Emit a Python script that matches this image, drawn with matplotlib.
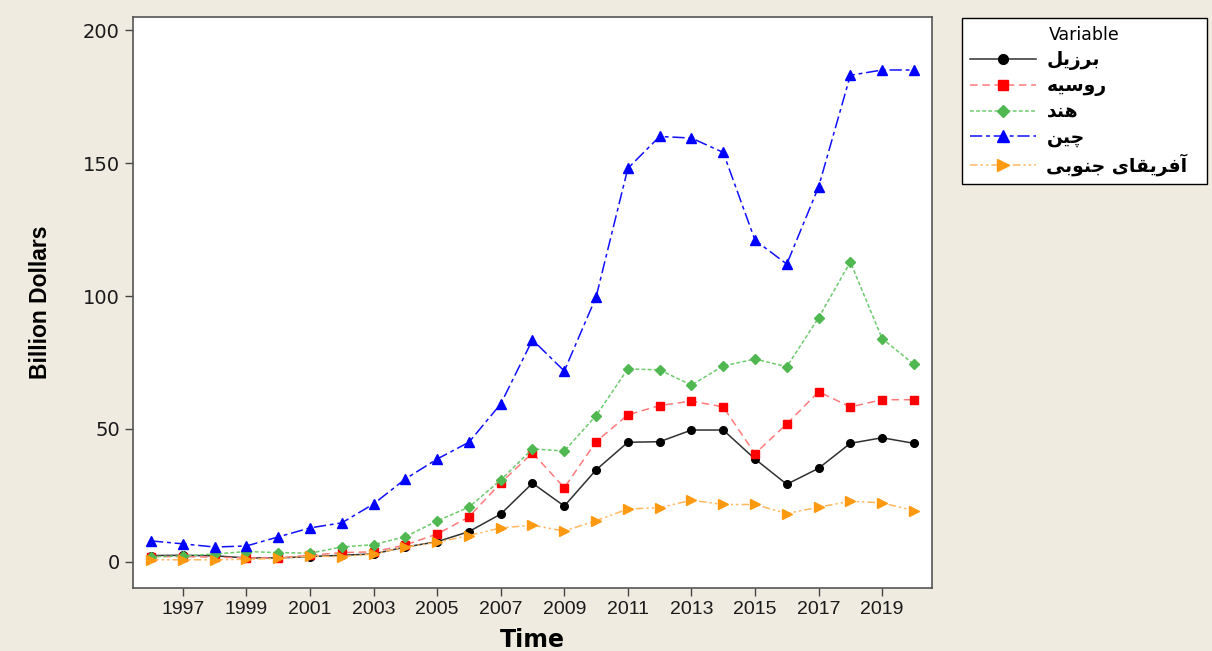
import matplotlib
matplotlib.use("Agg")
import matplotlib.pyplot as plt
from matplotlib.lines import Line2D

years = list(range(1996, 2021))
brazil = [2.4, 2.5, 2.3, 1.5, 1.5, 2.0, 2.5, 3.0, 5.6, 7.6, 11.4, 18.0, 29.6, 21.0, 34.6, 45.0, 45.2,
          49.6, 49.6, 38.7, 29.2, 35.2, 44.6, 46.7, 44.6]
russia = [2.0, 2.0, 1.8, 1.5, 1.5, 2.5, 3.5, 3.8, 6.4, 10.5, 16.9, 29.7, 41.0, 27.9, 45.2, 55.3, 58.8,
          60.5, 58.3, 40.7, 51.9, 64.0, 58.3, 61.0, 61.0]
india = [2.0, 2.2, 3.0, 3.9, 3.5, 3.3, 5.6, 6.5, 9.5, 15.4, 20.6, 30.8, 42.5, 41.7, 55.0, 72.6, 72.2,
         66.5, 73.7, 76.3, 73.4, 91.8, 112.8, 84.0, 74.3]
china = [7.9, 6.8, 5.6, 6.0, 9.4, 12.8, 14.7, 21.8, 31.2, 38.7, 45.0, 59.4, 83.5, 71.8, 99.6, 148.0, 160.0,
         159.4, 154.0, 121.0, 112.0, 141.0, 183.0, 185.0, 185.0]
safrica = [0.8, 0.8, 0.8, 1.0, 1.3, 2.2, 2.0, 3.0, 5.6, 7.4, 9.9, 12.8, 13.8, 11.6, 15.5, 19.9, 20.4,
           23.2, 21.6, 21.6, 18.2, 20.6, 22.8, 22.2, 19.3]
names = ["برزیل", "روسیه", "هند", "چین", "آفریقای جنوبی"]
xticks = list(range(1997, 2020, 2))
yticks = [0, 50, 100, 150, 200]

# --- minimal Arabic/Persian shaping (matplotlib has no complex text layout) ---
FORMS = {
    '\u0627': ('\uFE8D', '\uFE8E', None, None),
    '\u0622': ('\uFE81', '\uFE82', None, None),
    '\u0628': ('\uFE8F', '\uFE90', '\uFE91', '\uFE92'),
    '\u062C': ('\uFE9D', '\uFE9E', '\uFE9F', '\uFEA0'),
    '\u062F': ('\uFEA9', '\uFEAA', None, None),
    '\u0631': ('\uFEAD', '\uFEAE', None, None),
    '\u0632': ('\uFEAF', '\uFEB0', None, None),
    '\u0633': ('\uFEB1', '\uFEB2', '\uFEB3', '\uFEB4'),
    '\u0641': ('\uFED1', '\uFED2', '\uFED3', '\uFED4'),
    '\u0642': ('\uFED5', '\uFED6', '\uFED7', '\uFED8'),
    '\u0644': ('\uFEDD', '\uFEDE', '\uFEDF', '\uFEE0'),
    '\u0646': ('\uFEE5', '\uFEE6', '\uFEE7', '\uFEE8'),
    '\u0647': ('\uFEE9', '\uFEEA', '\uFEEB', '\uFEEC'),
    '\u0648': ('\uFEED', '\uFEEE', None, None),
    '\u06CC': ('\uFBFC', '\uFBFD', '\uFBFE', '\uFBFF'),
    '\u0686': ('\uFB7A', '\uFB7B', '\uFB7C', '\uFB7D'),
}


def shape(text):
    out = []
    n = len(text)
    for i, ch in enumerate(text):
        if ch not in FORMS:
            out.append(ch)
            continue
        prev = text[i - 1] if i > 0 else None
        nxt = text[i + 1] if i < n - 1 else None
        join_prev = prev in FORMS and FORMS[prev][2] is not None
        join_next = nxt in FORMS and FORMS[ch][2] is not None
        iso, fin, ini, med = FORMS[ch]
        if join_prev and join_next:
            out.append(med)
        elif join_prev:
            out.append(fin)
        elif join_next:
            out.append(ini)
        else:
            out.append(iso)
    return ''.join(reversed(out))


NARROW = ['Liberation Sans Narrow', 'DejaVu Sans Condensed', 'Liberation Sans', 'DejaVu Sans']

fig = plt.figure(figsize=(12.12, 6.51), dpi=100)
fig.patch.set_facecolor('#EFEBE1')
ax = fig.add_axes([0.1097, 0.0968, 0.6593, 0.877])
ax.set_facecolor('white')

series = [
    (brazil, '#303030', '#000000', 'o', '-', 5.5),
    (russia, '#FF7A7A', '#FF0000', 's', (0, (5, 3)), 5.5),
    (india, '#6CCB6C', '#50B850', 'D', (0, (2.5, 1.5)), 5.0),
    (china, '#1010FF', '#0000FF', '^', (0, (8, 2.5, 2.5, 2.5)), 6.5),
    (safrica, '#FFB860', '#FF9A10', '>', (0, (5, 2, 1.5, 2, 1.5, 2)), 6.5),
]
handles = []
for (vals, lc, mc, mk, ls, ms), name in zip(series, names):
    ax.plot(years, vals, color=lc, linestyle=ls, linewidth=1.1, marker=mk,
            markersize=ms, markerfacecolor=mc, markeredgecolor=mc)
    handles.append(Line2D([], [], color=lc, linestyle=ls, linewidth=1.1, marker=mk,
                          markersize=ms + 1.5, markerfacecolor=mc, markeredgecolor=mc))

ax.set_xlim(1995.43, 2020.57)
ax.set_ylim(-9.8, 204.9)
ax.set_xticks(xticks)
ax.set_yticks(yticks)
ax.set_xticklabels([str(y) for y in xticks], fontfamily=NARROW, fontsize=14)
ax.set_yticklabels([str(v) for v in yticks], fontfamily='DejaVu Sans', fontsize=14)
ax.tick_params(direction='out', length=6, width=1, color='#444444', labelcolor='#1A1A1A')
for s in ax.spines.values():
    s.set_color('#555555')
    s.set_linewidth(1.2)

ax.set_xlabel('Time', fontfamily='DejaVu Sans', fontweight='bold', fontsize=17, labelpad=7)
ax.set_ylabel('Billion Dollars', fontfamily=NARROW, fontweight='bold', fontsize=16.5,
              labelpad=22)

leg = fig.legend(handles, [shape(n) for n in names], title='Variable',
                 loc='upper left', bbox_to_anchor=(962 / 1212, 1 - 183 / 651, 245 / 1212, 165 / 651),
                 mode='expand', borderaxespad=0,
                 frameon=True, fancybox=False, edgecolor='black', facecolor='white', framealpha=1,
                 handlelength=3.5, handletextpad=0.55, borderpad=0.45, labelspacing=0.32,
                 prop={'family': 'DejaVu Sans', 'size': 13.5, 'weight': 'bold'},
                 title_fontproperties={'family': 'DejaVu Sans', 'size': 12.5})
leg.get_frame().set_linewidth(1.0)

fig.savefig('out.png', dpi=100, facecolor=fig.get_facecolor())
